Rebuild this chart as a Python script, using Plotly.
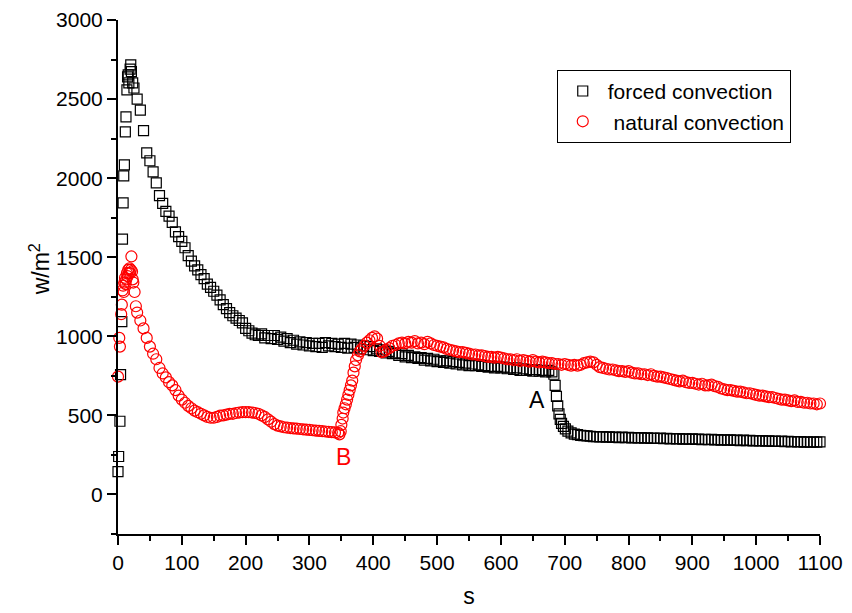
import plotly.graph_objects as go

# ---------------- data ----------------
# forced convection (black squares)
forced_t_early = [0, 1, 3, 4, 6, 7, 8, 9, 10, 11.5, 12.5, 14, 15, 16, 17, 19, 20, 21, 23]
forced_v_early = [145, 240, 463, 758, 1093, 1615, 1844, 2015, 2084, 2292, 2388, 2558, 2640, 2653, 2602, 2690, 2716, 2673, 2602]

forced_t_main = list(range(25, 681, 5))
forced_v_main = [
    2570, 2500, 2430, 2300, 2160, 2110, 2040, 1970, 1890, 1840, 1790, 1760, 1720, 1660, 1630, 1600,
    1560, 1510, 1475, 1445, 1420, 1390, 1365, 1330, 1310, 1285, 1260, 1230, 1200, 1175, 1150, 1130, 1115, 1100, 1085, 1050,
    1035, 1020, 1010, 1005, 1015, 990, 1005, 985, 1005, 980, 995, 970, 985, 960, 975, 950, 965, 945, 960, 940,
    955, 935, 955, 930, 960, 940, 955, 935, 950, 930, 955, 925, 950, 930, 945, 920, 940, 915, 935, 910,
    920, 905, 915, 895, 905, 890, 895, 880, 890, 870, 880, 865, 870, 860, 865, 850, 860, 845, 855, 840,
    845, 835, 845, 830, 840, 825, 835, 820, 830, 815, 825, 815, 820, 810, 815, 805, 810, 800, 810, 800,
    805, 795, 800, 790, 800, 785, 795, 785, 790, 780, 790, 780, 785, 775, 785, 775,
]

forced_t_drop = [683, 685, 687, 689, 691, 693, 695, 698, 701, 705, 710, 715, 720, 725, 730, 735, 740, 745, 750]
forced_v_drop = [760, 690, 620, 560, 510, 475, 450, 430, 415, 400, 390, 382, 378, 374, 372, 370, 368, 366, 365]

forced_t_tail = list(range(755, 1101, 5))
forced_v_tail = [
    364, 366, 362, 364, 361, 363, 360, 362, 359, 361,
    358, 360, 357, 359, 356, 358, 355, 357, 354, 356,
    353, 355, 352, 354, 351, 353, 350, 352, 349, 351,
    348, 350, 347, 349, 346, 348, 345, 347, 344, 346,
    343, 345, 342, 344, 341, 343, 340, 342, 339, 341,
    338, 340, 337, 339, 336, 338, 335, 337, 334, 336,
    333, 335, 332, 334, 331, 333, 330, 332, 331, 332,
]

# natural convection (red circles)
natural_t_early = [0, 2, 3, 5, 6, 7, 8, 9, 10, 11, 12, 13, 14, 15, 16, 17, 18, 19, 20, 21, 22, 23, 24, 26, 28]
natural_v_early = [745, 990, 935, 1140, 1200, 1290, 1320, 1280, 1340, 1370, 1330, 1360, 1400, 1380, 1420,
                   1400, 1430, 1400, 1420, 1505, 1410, 1360, 1340, 1280, 1190]

natural_t_main = list(range(30, 346, 5))
natural_v_main = [
    1150, 1100, 1050, 990, 935, 890, 855, 800, 765, 740,
    710, 690, 660, 625, 600, 580, 560, 545, 530, 520,
    510, 500, 490, 485, 485, 490, 498, 500, 505, 510,
    510, 515, 518, 520, 520, 520, 518, 515, 510, 500,
    490, 475, 460, 445, 435, 430, 425, 422, 420, 418,
    416, 414, 412, 410, 408, 406, 404, 402, 400, 398,
    396, 394, 392, 390,
]

natural_t_rise = [347, 349, 350, 352, 353, 355, 357, 359, 361, 363, 365, 367, 369, 371, 373, 376, 379, 382,
                  386, 390, 394, 398, 402, 406, 410, 413, 417]
natural_v_rise = [380, 400, 440, 480, 518, 545, 570, 600, 630, 660, 690, 720, 770, 810, 850, 880, 905, 920,
                  940, 960, 975, 990, 1000, 985, 940, 900, 905]

natural_t_late = list(range(420, 1101, 5))
natural_v_late = [
    915, 925, 940, 945, 955, 960, 955, 965, 960, 970,
    955, 960, 950, 965, 955, 945, 940, 935, 930, 920,
    915, 910, 905, 900, 900, 895, 890, 885, 885, 880,
    880, 875, 870, 870, 865, 870, 865, 860, 855, 855,
    850, 855, 845, 850, 845, 840, 850, 840, 835, 840,
    835, 830, 830, 825, 825, 820, 825, 820, 815, 820,
    815, 820, 830, 835, 840, 835, 820, 805, 800, 795,
    790, 790, 785, 780, 780, 775, 780, 770, 765, 765,
    760, 760, 755, 760, 750, 745, 745, 740, 735, 730,
    725, 720, 715, 720, 710, 705, 705, 700, 695, 700,
    690, 690, 695, 685, 680, 670, 665, 660, 660, 655,
    650, 650, 645, 640, 640, 635, 630, 625, 625, 620,
    615, 615, 610, 605, 600, 600, 595, 590, 595, 585,
    585, 580, 580, 575, 575, 570, 575,
]

forced_t = forced_t_early + forced_t_main + forced_t_drop + forced_t_tail
forced_v = forced_v_early + forced_v_main + forced_v_drop + forced_v_tail
natural_t = natural_t_early + natural_t_main + natural_t_rise + natural_t_late
natural_v = natural_v_early + natural_v_main + natural_v_rise + natural_v_late

x_ticks = [0, 100, 200, 300, 400, 500, 600, 700, 800, 900, 1000, 1100]
y_ticks = [0, 500, 1000, 1500, 2000, 2500, 3000]

FONT = "Arial, 'Liberation Sans', sans-serif"

fig = go.Figure()
fig.add_trace(go.Scatter(
    x=forced_t, y=forced_v, mode="markers", name="forced convection",
    marker=dict(symbol="square-open", size=10, color="black", line=dict(width=1.2, color="black")),
    cliponaxis=False,
))
fig.add_trace(go.Scatter(
    x=natural_t, y=natural_v, mode="markers", name="\u00a0natural convection",
    marker=dict(symbol="circle-open", size=11, color="red", line=dict(width=1.2, color="red")),
    cliponaxis=False,
))

axis_common = dict(
    showline=True, linecolor="black", linewidth=2, mirror=False,
    ticks="outside", ticklen=9, tickwidth=2, tickcolor="black",
    showgrid=False, zeroline=False, automargin=False,
    tickfont=dict(family=FONT, size=21, color="black"),
)

fig.update_layout(
    width=852, height=613,
    margin=dict(l=118, r=32, t=20, b=79),
    paper_bgcolor="white", plot_bgcolor="white",
    font=dict(family=FONT, color="black"),
    xaxis=dict(
        range=[0, 1100], tickvals=x_ticks,
        minor=dict(dtick=50, tick0=0, ticklen=5, tickwidth=2, tickcolor="black", ticks="outside", showgrid=False),
        title=dict(text="s", font=dict(family=FONT, size=23)),
        **axis_common,
    ),
    yaxis=dict(
        range=[-250, 3000], tickvals=y_ticks,
        minor=dict(dtick=250, tick0=0, ticklen=5, tickwidth=2, tickcolor="black", ticks="outside", showgrid=False),
        **axis_common,
    ),
    legend=dict(
        x=0.625, y=0.903, xanchor="left", yanchor="top",
        bordercolor="black", borderwidth=1, bgcolor="white",
        font=dict(family=FONT, size=21, color="black"),
        tracegroupgap=0, itemwidth=40,
    ),
    annotations=[
        dict(x=-0.111, y=0.515, xref="paper", yref="paper", text="w/m<sup>2</sup>", textangle=-90,
             showarrow=False, xanchor="center", yanchor="middle",
             font=dict(family=FONT, size=23, color="black")),
        dict(x=656, y=600, xref="x", yref="y", text="A", showarrow=False,
             font=dict(family=FONT, size=23, color="black")),
        dict(x=353, y=235, xref="x", yref="y", text="B", showarrow=False,
             font=dict(family=FONT, size=23, color="red")),
    ],
)

fig.write_html("out.html", config={"displayModeBar": False})
